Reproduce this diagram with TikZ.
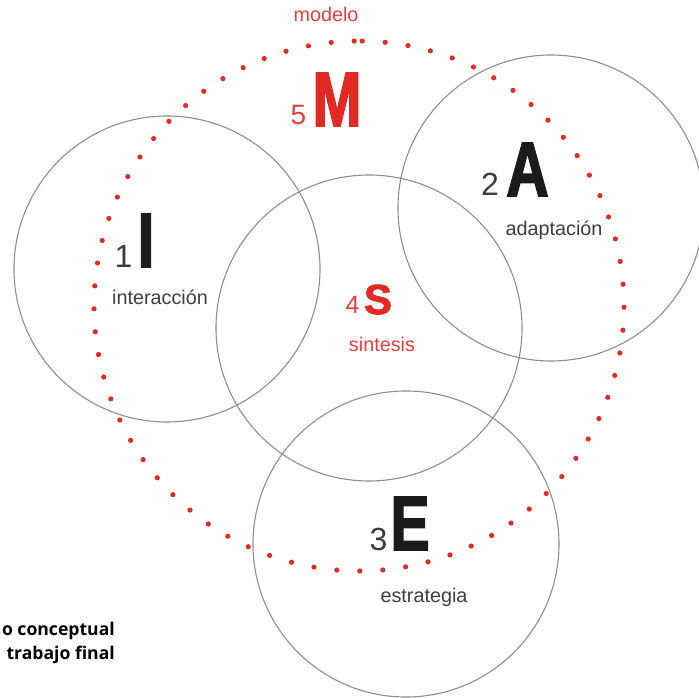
\documentclass[tikz,border=0pt]{standalone}
\usepackage{fontspec}
\setmainfont{Liberation Sans}
\newfontfamily\heavy[FakeStretch=0.76,FakeBold=2.2]{Liberation Sans}
\newfontfamily\heavyS[FakeBold=2.0]{Liberation Sans}
\newfontfamily\capfont{Open Sans}
\usetikzlibrary{calc,positioning}
\definecolor{cRing}{HTML}{8E8E8E}
\definecolor{cRed} {HTML}{E12A24}
\definecolor{cRedT}{HTML}{E4413B}
\definecolor{cInk} {HTML}{1C1A1A}
\definecolor{cLbl} {HTML}{3E3E3E}
\tikzset{
  ring/.style  ={circle,draw=cRing,line width=1.1pt,minimum size=306pt,inner sep=0pt},
  dotc/.style  ={fill=cRed},
  bigl/.style  ={inner sep=0pt,anchor=base,text=cInk,font=\heavy\bfseries\fontsize{77}{77}\selectfont},
  digit/.style ={inner sep=0pt,anchor=base,text=cInk!85,font=\fontsize{32}{32}\selectfont},
  lbl/.style   ={inner sep=0pt,anchor=base,text=cLbl,font=\fontsize{19.8}{21}\selectfont},
  redl/.style  ={text=cRed},
  capt/.style  ={inner sep=0pt,anchor=base east,font=\capfont\bfseries\fontsize{17.6}{20}\selectfont},
}

\begin{document}
\begin{tikzpicture}[x=1pt,y=-1pt]
\useasboundingbox (0,0) rectangle (699,698);

% ===== the four circles ==================================================
\node[ring] (cI) at (167,269) {};
\node[ring] (cA) at (551,208) {};
\node[ring] (cS) at (369,328) {};
\node[ring] (cE) at (406,544) {};

% ===== dotted ring of the model ==========================================
\coordinate (mctr) at (359,306);
\foreach \k in {0,...,72}
  \fill[dotc] ($(mctr)+({270.7+\k*4.9757}:265)$) circle (2.6);

% ===== letters and numbers ===============================================
\node[bigl,redl] (tM) at (337,126) {M};
\node[digit,text=cRedT,font=\fontsize{28}{28}\selectfont] (nM) at (298.5,125) {5};
\node[lbl,text=cRedT] (lM) at (326,22) {modelo};

\node[bigl] (tI) at (146,267) {I};
\node[digit] (nI) at (123.5,267) {1};
\node[lbl] (lI) at (160,304) {interacción};

\node[bigl] (tA) at (527.5,196) {A};
\node[digit] (nA) at (490,195) {2};
\node[lbl] (lA) at (554,235) {adaptación};

\node[inner sep=0pt,anchor=base,text=cRed,font=\heavyS\bfseries\fontsize{42}{42}\selectfont]
  (tS) at (378,314) {S};
\node[digit,text=cRedT,font=\fontsize{25}{25}\selectfont] (nS) at (352.5,313) {4};
\node[lbl,text=cRedT] (lS) at (382,351) {sintesis};

\node[bigl] (tE) at (410,550) {E};
\node[digit] (nE) at (378.5,550) {3};
\node[lbl] (lE) at (424,602) {estrategia};

% ===== caption, cut at the left edge =====================================
\node[capt] (cap1) at (115,635) {o conceptual};
\node[capt] (cap2) at (115,659) {trabajo final};
\end{tikzpicture}
\end{document}
